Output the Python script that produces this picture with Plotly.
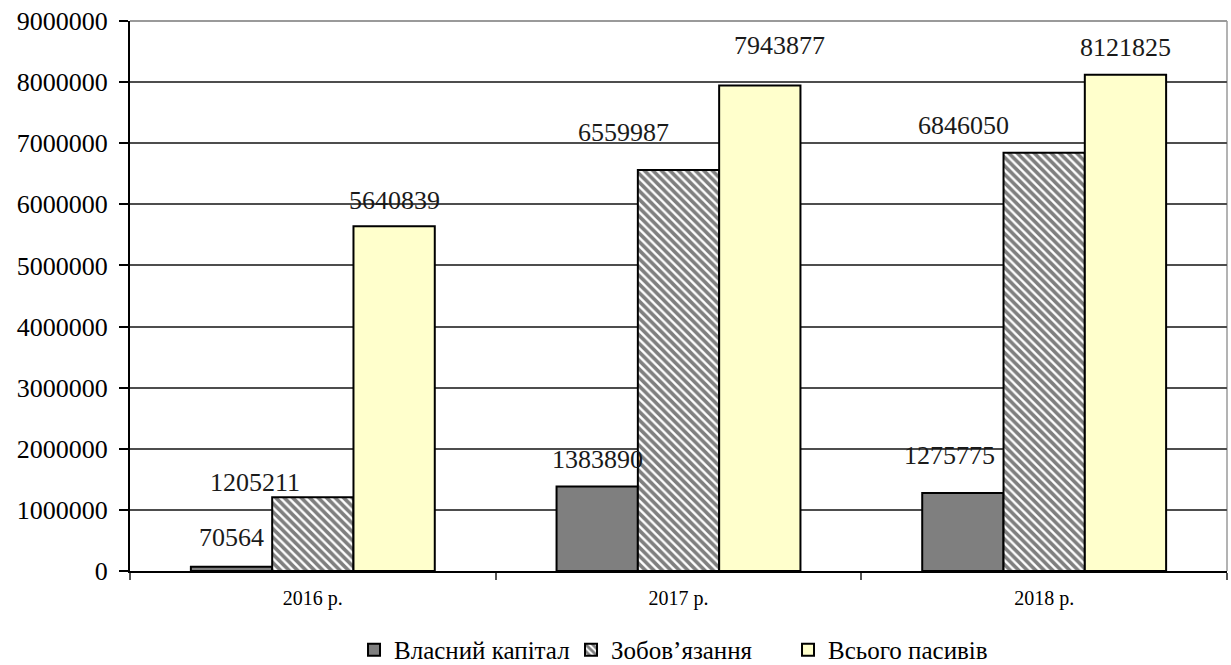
import plotly.graph_objects as go

# Balance-sheet liabilities by year (UAH thousand)
years = ["2016 р.", "2017 р.", "2018 р."]
equity = [70564, 1383890, 1275775]
liabilities = [1205211, 6559987, 6846050]
total_liabilities = [5640839, 7943877, 8121825]

series_names = ["Власний капітал", "Зобов’язання", "Всього пасивів"]
y_ticks = [0, 1000000, 2000000, 3000000, 4000000, 5000000, 6000000, 7000000, 8000000, 9000000]

# per-label nudges (px) for the value labels: (series, year) -> (dx, dy)
label_offsets = {
    (0, 0): (0, 29), (1, 0): (-58, 15), (2, 0): (0, 26),
    (0, 1): (0, 27), (1, 1): (-55, 38), (2, 1): (20, 40),
    (0, 2): (-13, 38), (1, 2): (-81, 27), (2, 2): (0, 27),
}

SERIF = "Liberation Serif"

fig = go.Figure()
fig.add_trace(go.Bar(
    x=years, y=equity, name=series_names[0],
    marker=dict(color="#7f7f7f", line=dict(color="black", width=2)),
))
fig.add_trace(go.Bar(
    x=years, y=liabilities, name=series_names[1],
    marker=dict(color="white", line=dict(color="black", width=2),
                pattern=dict(shape="\\", fgcolor="black", bgcolor="white",
                             size=6, solidity=0.6)),
))
fig.add_trace(go.Bar(
    x=years, y=total_liabilities, name=series_names[2],
    marker=dict(color="#ffffcc", line=dict(color="black", width=2)),
))

all_series = [equity, liabilities, total_liabilities]
for s, values in enumerate(all_series):
    for i, v in enumerate(values):
        dx, dy = label_offsets[(s, i)]
        fig.add_annotation(
            x=years[i], y=v, text=str(v), showarrow=False,
            xref="x", yref="y", xanchor="center", yanchor="middle",
            xshift=(s - 1) * 81.3 + dx, yshift=dy,
            font=dict(family=SERIF, size=26, color="#1a1a1a"),
        )

fig.update_layout(
    width=1231, height=665,
    margin=dict(l=130, r=4, t=21, b=94),
    paper_bgcolor="white", plot_bgcolor="white",
    barmode="group", bargap=0.333, bargroupgap=0,
    showlegend=True,
    legend=dict(
        orientation="h", xref="container", yref="container",
        x=0.552, y=0.0226, xanchor="center", yanchor="middle",
        font=dict(family=SERIF, size=25, color="black"),
        itemwidth=30, tracegroupgap=0,
        entrywidth=172, entrywidthmode="pixels",
    ),
    xaxis=dict(
        tickfont=dict(family=SERIF, size=20, color="black"),
        showline=True, linecolor="black", linewidth=2,
        ticks="outside", tickson="boundaries", ticklen=7,
        tickcolor="#555555", tickwidth=1.5,
        showgrid=False, mirror=False, ticklabelstandoff=8,
    ),
    yaxis=dict(
        range=[0, 9000000], tickvals=y_ticks,
        ticktext=[str(t) for t in y_ticks],
        tickfont=dict(family=SERIF, size=26, color="black"),
        showline=True, linecolor="black", linewidth=2,
        ticks="outside", ticklen=9, tickcolor="black", tickwidth=1.5,
        showgrid=True, gridcolor="#4d4d4d", gridwidth=1.5,
        zeroline=False, ticklabelstandoff=6,
    ),
)

# light frame on the top and right of the plotting area
fig.add_shape(type="line", xref="paper", yref="paper", x0=0, x1=1, y0=1, y1=1,
              line=dict(color="#9a9a9a", width=2), layer="below")
fig.add_shape(type="line", xref="paper", yref="paper", x0=1, x1=1, y0=0, y1=1,
              line=dict(color="#9a9a9a", width=1.5), layer="below")

fig.write_html("out.html")
